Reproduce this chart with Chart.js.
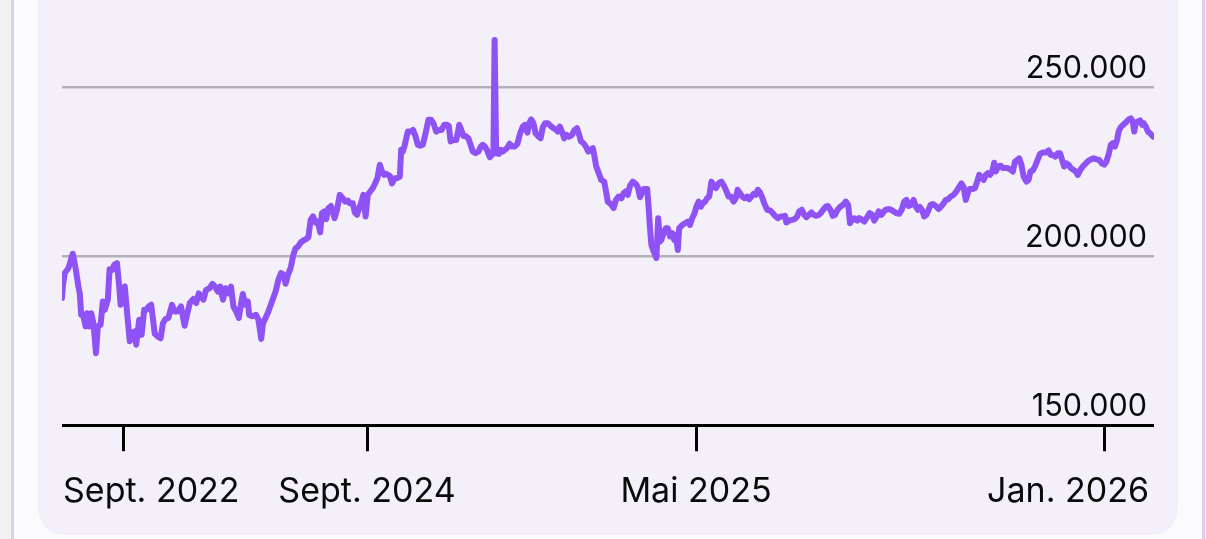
<!DOCTYPE html>
<html><head><meta charset="utf-8">
<script src="https://cdn.jsdelivr.net/npm/chart.js@4.4.1/dist/chart.umd.min.js"></script>
<style>
html,body{margin:0;padding:0;width:1206px;height:539px;overflow:hidden;background:#f1f1f1;}
#frame{position:absolute;left:11px;top:0;width:1194px;height:539px;background:#fbfafc;border-left:3px solid #dccdf5;border-right:3px solid #dccdf5;box-sizing:border-box;}
#card{position:absolute;left:38px;top:-40px;width:1140px;height:575px;background:#f3f0f9;border-radius:26px;}
#wrap{position:absolute;left:62px;top:0;width:1092px;height:532px;}
</style></head>
<body>
<div id="frame"></div>
<div id="card"></div>
<div id="wrap"><canvas id="c"></canvas></div>
<script>
const days = [
0,0.5,1.4,3.2,5.4,6.8,8.2,8.9,9.6,10.7,
11.8,12.5,13.6,14.6,15.7,17.0,17.9,19.3,20.4,21.4,
22.9,23.8,25.0,26.1,27.5,28.6,29.3,30.4,31.4,32.7,
33.9,35.0,36.3,37.1,38.6,39.8,41.1,42.1,43.4,44.6,
46.4,47.9,49.3,50.5,51.8,53.2,55.0,56.3,57.7,59.5,
61.3,62.5,63.9,65.7,67.1,68.4,69.6,70.7,72.0,73.8,
75.2,76.4,77.9,79.1,80.5,81.8,83.2,84.5,85.7,87.1,
88.4,89.3,90.4,91.6,92.9,93.6,95.2,97.0,98.2,99.6,
100.5,101.8,103.2,105.0,106.8,108.2,109.5,110.7,111.8,113.0,
114.3,115.7,116.8,118.0,119.3,120.7,122.0,123.2,124.3,125.5,
126.8,127.9,129.1,130.0,131.1,132.1,133.2,134.5,136.3,137.5,
138.9,140.4,141.6,142.9,143.9,145.4,146.4,147.5,148.9,150.0,
150.7,151.8,152.9,154.1,155.4,156.4,157.7,158.9,160.0,161.1,
162.1,163.9,165.0,166.3,167.5,168.9,169.6,170.4,171.4,172.9,
174.3,175.5,176.8,177.9,179.1,180.4,181.8,183.2,184.5,185.7,
187.1,188.6,189.8,191.1,192.5,193.4,194.3,195.7,197.1,198.2,
198.6,199.6,200.7,201.8,203.2,204.3,205.4,206.8,208.2,209.5,
210.4,211.4,212.5,213.9,215.0,215.7,216.3,217.1,218.4,219.3,
220.4,221.4,222.5,223.8,225.0,226.4,227.7,229.1,230.4,231.4,
232.7,233.6,234.6,235.7,236.8,238.0,239.3,240.4,241.6,242.9,
244.3,245.7,246.8,247.9,248.9,250.0,251.1,252.3,253.6,255.0,
256.3,257.5,258.6,259.5,260.7,262.1,263.2,264.3,265.4,266.1,
267.1,268.4,269.6,271.1,272.0,272.9,274.3,
275.8,277.0,278.3,279.7,280.8,281.9,282.9,284.0,285.4,286.9,
287.9,289.0,290.1,290.8,292.6,293.3,294.0,294.7,295.8,297.2,
298.1,299.0,299.7,300.8,301.9,302.9,304.0,305.1,306.1,306.9,
307.9,308.6,310.1,311.5,312.9,314.0,315.1,316.3,317.2,318.3,
319.4,320.4,321.5,322.6,323.6,324.7,325.8,327.0,328.3,329.7,
330.8,331.9,333.3,334.5,335.8,336.9,337.8,339.0,340.1,341.3,
342.6,343.6,344.7,345.8,346.9,347.9,349.0,350.3,351.1,352.6,
354.0,355.4,356.5,357.9,359.2,360.4,361.5,362.2,363.6,365.1,
366.3,367.6,368.6,369.9,371.1,372.2,373.5,374.7,375.8,377.0,
378.3,379.4,380.6,381.9,382.9,384.2,385.4,386.5,387.8,389.0,
390.4,391.9,393.1,394.0,395.1,396.1,397.6,398.6,400.1,401.1,
402.6,403.8,405.1,406.1,407.4,408.3,409.7,411.0,411.9,413.3,
414.5,415.8,417.2,418.6,419.9,421.1,422.2,423.3,424.4,425.8,
426.9,427.9,429.0,430.1,431.1,432.2,433.3,434.2,435.4,436.9,
438.3,439.5,440.8,441.9,443.1,444.4,445.8,447.2,448.5,449.7,
450.8,451.9,452.9,453.8,455.1,456.5,457.6,458.6,459.7,460.8,
461.9,462.9,464.0,465.1,466.1,466.9,468.1,469.4,470.4,471.7,
472.9,474.4,475.4,476.5,477.6,478.6,479.7,480.8,482.2,483.3,
484.2,485.4,486.5,487.8,489.0,490.4,491.9,493.3,494.4,495.4,
496.7,497.9,499.0,500.3,501.1,502.2,503.3,504.4,505.6,506.9,
507.9,509.2,510.4,511.9,513.3,514.5,515.8,517.2,518.6,519.9,
521.1,522.2,523.5,524.4,525.4,526.5,527.6,528.3,529.4,530.6,
531.9,533.3,534.4,535.4,536.1,536.9,537.9,539.0,540.1,540.8,
541.9,543.0,544.0,545.6
];
const prices = [
187600,191500,195000,196400,200700,196400,191000,189000,182600,182200,
179200,183100,179200,183100,180200,171300,179200,179700,186600,184100,
187100,196100,195900,197400,197900,191000,185600,190500,191000,182200,
174800,177200,177700,173800,181200,176700,184100,184100,185100,185600,
177000,176200,175700,180200,181400,181700,185600,183600,183600,185100,
179400,182600,186100,187300,186100,189000,188100,187100,190000,190500,
191800,191000,189500,191000,187100,190500,189000,191000,185100,183600,
181700,185100,188800,185600,186600,182600,182200,182600,181200,175500,
180200,181700,183600,186600,189500,193000,195000,194500,191800,194500,
196400,200400,202300,202800,204000,204600,205000,205600,210700,211700,
209900,210200,207000,212700,213200,210900,214200,214800,211200,213700,
218100,217100,216100,216400,215600,215600,212900,212200,214600,216600,
218100,211700,218100,219100,220100,221300,223000,227000,225000,224000,
224300,223700,221500,223000,223000,223500,231400,230900,232900,236800,
236800,237300,235300,232900,232600,232900,236300,240300,240300,239300,
236800,237300,237300,238800,238800,238500,233900,234300,234300,237300,
238800,237300,235500,235500,234800,232900,230900,230400,230900,232400,
232900,232400,231400,229200,229900,230400,263900,230400,230200,231400,
230900,231400,231900,233200,232400,232400,233200,236300,238300,238800,
236500,239300,240400,239300,236300,235500,234800,238100,239300,239300,
238500,237800,237500,236800,238300,236800,234800,235800,235300,235800,
237300,237800,235800,233900,233400,232200,230900,231400,231900,229900,
226500,224500,222500,222000,219100,216100,215400,
214200,216600,217600,217100,218600,219100,218100,220800,222000,221300,
220400,217400,218800,219800,219800,214600,208200,203300,201400,199400,
211200,204300,204800,206800,208200,208200,205800,206800,204800,206300,
201800,208200,209200,209700,210200,209200,211200,212700,214600,216100,
214600,215600,216100,217100,217600,222000,221000,220100,221500,222000,
221000,219600,217600,217600,216100,217100,219600,218600,217600,217100,
217600,216800,217600,218400,218100,219600,218800,217100,215600,213700,
213500,212700,211900,211200,211700,211700,211900,209900,210500,210700,
210900,211700,213200,213700,212200,211500,212200,212900,212200,211900,
212100,212700,213700,214600,214800,213700,211900,212200,213700,214500,
215100,216100,215100,209700,210900,211200,210500,211200,210700,210200,
211500,212700,212200,210500,211700,213200,212200,213200,213700,213900,
213700,213200,212700,212500,213700,216100,216600,214800,215100,216600,
214600,213700,214500,213500,211700,212200,213700,215100,215400,214800,
213900,214600,215600,216600,216800,217600,218100,219100,220400,221500,
220400,216600,218600,219800,219800,220100,222000,224000,223300,222500,
224000,224500,224000,225000,227600,225000,226500,226700,226000,226000,
226000,225500,225000,227900,228400,228900,227000,223500,222000,222500,
225000,225300,226500,228400,230200,230600,230600,231200,229900,229900,
229400,230400,230400,227900,226500,227400,227000,226000,225500,225000,
224000,225500,226500,227400,228200,228600,228900,228600,228400,227400,
227000,227900,230400,232900,233400,232400,234500,236800,238100,238800,
239500,240400,240700,239800,236800,239300,239800,240100,238800,239300,
238300,236800,236300,235300
];
const tickDays = [30.5, 152.5, 317, 521];
const tickLabels = ['Sept. 2022', 'Sept. 2024', 'Mai 2025', 'Jan. 2026'];
const yTickValues = [150000, 200000, 250000];
const xMin = 0, xMax = 546, yMin = 150000, yMax = 275700;

function fmtDE(v){ return String(Math.round(v)).replace(/\B(?=(\d{3})+(?!\d))/g, '.'); }

const clampLabels = {
  id: 'clampLabels',
  beforeDraw(chart){
    const sc = chart.scales.x;
    if (!sc || typeof sc.getLabelItems !== 'function') return;
    const items = sc.getLabelItems(chart.chartArea);
    const area = chart.chartArea;
    const ctx = chart.ctx;
    items.forEach((it, i) => {
      ctx.save();
      ctx.font = it.font.string;
      const w = ctx.measureText(it.label).width;
      ctx.restore();
      const px = sc.getPixelForTick(i);
      const c = Math.min(Math.max(px, area.left + 1 + w/2), area.right - 5 - w/2);
      it.options.translation[0] = c;
      it.options.textAlign = 'center';
    });
  }
};

new Chart(document.getElementById('c'), {
  type: 'line',
  data: {
    datasets: [{
      data: days.map((d, i) => ({x: d, y: prices[i]})),
      borderColor: '#8f52f4',
      borderWidth: 6,
      pointRadius: 0,
      tension: 0,
      fill: false,
      borderJoinStyle: 'round',
      borderCapStyle: 'round'
    }]
  },
  options: {
    responsive: true,
    maintainAspectRatio: false,
    animation: false,
    events: [],
    layout: { padding: 0, autoPadding: false },
    plugins: { legend: {display: false}, tooltip: {enabled: false} },
    scales: {
      x: {
        type: 'linear', min: xMin, max: xMax,
        afterBuildTicks: s => { s.ticks = tickDays.map(v => ({value: v})); },
        afterFit: s => { s.paddingLeft = 0; s.paddingRight = 0; },
        grid: { display: true, drawOnChartArea: false, drawTicks: true, tickLength: 26, tickWidth: 3, tickColor: '#000' },
        border: { display: true, color: '#000', width: 3, z: 1 },
        ticks: { autoSkip: false, maxRotation: 0, minRotation: 0, padding: 20, color: '#0a0a0a',
          font: { family: 'Inter', size: 34 }, align: 'inner',
          callback: (v, i) => tickLabels[i] }
      },
      y: {
        type: 'linear', position: 'right', min: yMin, max: yMax,
        afterBuildTicks: s => { s.ticks = yTickValues.map(v => ({value: v})); },
        afterFit: s => { s.width = 0; s.paddingTop = 0; s.paddingBottom = 0; },
        grid: { color: c => (c.tick && c.tick.value === yMin) ? 'rgba(0,0,0,0)' : '#b3b0b7', lineWidth: 2.5, drawTicks: false },
        border: { display: false },
        ticks: { mirror: true, padding: -7, labelOffset: -18, color: '#0a0a0a',
          font: { family: 'Inter', size: 30.5 }, callback: v => fmtDE(v) }
      }
    }
  },
  plugins: [clampLabels]
});
</script>
</body></html>
